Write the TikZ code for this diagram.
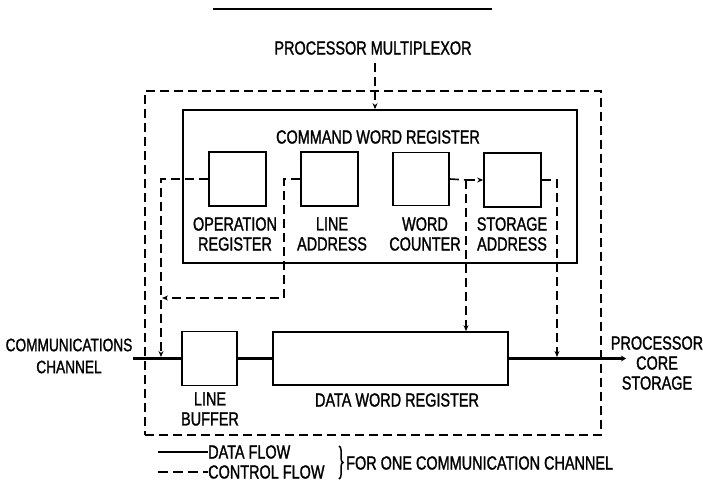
\documentclass[tikz,border=0pt]{standalone}
\usepackage{fontspec}
\setmainfont{Liberation Sans}[FakeStretch=0.76,FakeBold=1.3]
\usetikzlibrary{arrows.meta,decorations.pathreplacing}
\begin{document}
\begin{tikzpicture}[x=1pt,y=-1pt,
  lbl/.style={font=\fontsize{19}{20}\selectfont, inner sep=0pt, align=center},
  box/.style={draw, line width=1.7pt, inner sep=0pt},
  ctl/.style={draw, line width=1.6pt, dash pattern=on 9pt off 5pt},
  dat/.style={draw, line width=3pt},
  tip/.style={-{Stealth[length=6pt,width=5pt]}},
]
\useasboundingbox (0,0) rectangle (703,484);
% top rule
\coordinate (tl1) at (213,9);
\coordinate (tl2) at (492,9);
\draw[line width=1.8pt] (tl1) -- (tl2);
% boxes
\node[ctl, minimum width=456pt, minimum height=344pt, inner sep=0pt] (outer) at (373,263) {};
\node[box, minimum width=394pt, minimum height=153pt] (cwr) at (380,186.5) {};
\node[box, minimum width=57pt, minimum height=54pt] (opreg) at (237.5,179) {};
\node[box, minimum width=57pt, minimum height=54pt] (laddr) at (329.5,179) {};
\node[box, minimum width=56pt, minimum height=53pt] (wctr) at (421,179) {};
\node[box, minimum width=57pt, minimum height=54pt] (saddr) at (512.5,180) {};
\node[box, minimum width=55pt, minimum height=54pt] (lbuf) at (209.5,358.5) {};
\node[box, minimum width=235pt, minimum height=53pt] (dwr) at (390.5,358.5) {};
% labels
\node[lbl] (pm) at (373,48) {PROCESSOR MULTIPLEXOR};
\node[lbl] (cwrlbl) at (378,137) {COMMAND WORD REGISTER};
\node[lbl] (oplbl) at (235,234) {OPERATION\\REGISTER};
\node[lbl] (lalbl) at (332,234) {LINE\\ADDRESS};
\node[lbl] (wclbl) at (425,234) {WORD\\COUNTER};
\node[lbl] (salbl) at (512,234) {STORAGE\\ADDRESS};
\node[lbl] (lblbl) at (210,409) {LINE\\BUFFER};
\node[lbl] (dwrlbl) at (397,400) {DATA WORD REGISTER};
\node[lbl, font=\fontsize{18}{22}\selectfont] (commlbl) at (69,356) {COMMUNICATIONS\\CHANNEL};
\node[lbl] (pcslbl) at (657,363) {PROCESSOR\\CORE\\STORAGE};
% data flow
\coordinate (cin) at (133,358.5);
\coordinate (cout) at (626,358.5);
\draw[dat] (cin) -- (lbuf.west);
\draw[dat] (lbuf.east) -- (dwr.west);
\draw[dat,-{Stealth[length=5pt,width=6pt]}] (dwr.east) -- (cout);
% control flow
\coordinate (pmtop) at (375,63);
\draw[ctl,tip] (pmtop) -- (pmtop |- cwr.north);
\coordinate (j1) at (161,357);
\draw[ctl,tip] (opreg.west) -| (j1);
\coordinate (lturn) at (284,298);
\coordinate (retend) at (162,298);
\draw[ctl,tip] (laddr.west) -| (lturn) -- (retend);
\coordinate (wbr) at (466,180);
\draw[ctl] (wctr.east) -- (wbr);
\draw[ctl,tip] (wbr) -- (saddr.west);
\draw[ctl,tip] (wbr) -- (wbr |- dwr.north);
\coordinate (j2) at (557,357);
\draw[ctl,tip] (saddr.east) -| (j2);
% legend
\coordinate (lg1) at (158,452);
\coordinate (lg2) at (158,472);
\node[lbl, anchor=west] (ldata) at (208,452) {DATA FLOW};
\node[lbl, anchor=west] (lctl) at (208,472) {CONTROL FLOW};
\draw[line width=1.6pt] (lg1) -- (ldata.west);
\draw[ctl, dash pattern=on 10pt off 5pt] (lg2) -- (lctl.west);
\coordinate (br1) at (339,446);
\coordinate (br2) at (339,479);
\draw[decorate, decoration={brace,amplitude=4pt}, line width=1.5pt] (br1) -- (br2);
\node[lbl, anchor=west] (fone) at (346,463) {FOR ONE COMMUNICATION CHANNEL};
\end{tikzpicture}
\end{document}
